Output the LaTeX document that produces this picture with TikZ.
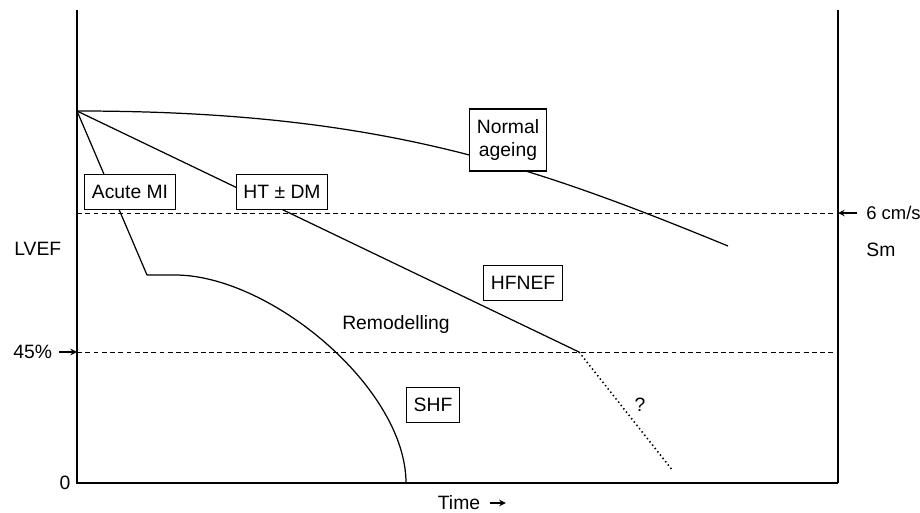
\documentclass[tikz,border=0pt]{standalone}
\usepackage{fontspec}
\setmainfont{Liberation Sans}
\usetikzlibrary{positioning}

\begin{document}
\begin{tikzpicture}[x=0.02cm,y=-0.02cm,
    txt/.style={font=\fontsize{11}{13}\selectfont},
    tag/.style={txt,draw,fill=white,line width=0.7pt,inner xsep=4pt,inner ysep=6pt,align=center},
    trend/.style={line width=0.7pt},
    level/.style={line width=0.5pt,dash pattern=on 2.8pt off 1.9pt},
    guess/.style={line width=0.9pt,dash pattern=on 0.8pt off 1.6pt},
    pointer/.style={line width=0.7pt,-stealth}]
    \useasboundingbox (0,0) rectangle (920,513);
    % frame
    \coordinate (tl) at (77,10);
    \coordinate (bl) at (77,483);
    \coordinate (br) at (838,483);
    \coordinate (tr) at (838,10);
    \draw[trend] (tl) -- (bl) -- (br);
    \draw[trend] (tr) -- (br);
    % levels
    \coordinate (s6l) at (77,213);
    \coordinate (s6r) at (838,213);
    \coordinate (ef45l) at (77,352);
    \coordinate (ef45r) at (838,352);
    \draw[level] (s6l) -- (s6r);
    \draw[level] (ef45l) -- (ef45r);
    % curves
    \coordinate (o) at (77,111);
    \coordinate (ageend) at (728,246);
    \coordinate (mi) at (147,275);
    \coordinate (remend) at (406,483);
    \coordinate (ht) at (579,352);
    \coordinate (htend) at (673,471);
    \draw[trend] (o) .. controls (377,111) and (528,164) .. (ageend);
    \draw[trend] (o) -- (ht);
    \draw[guess] (ht) -- (htend);
    \draw[trend] (o) -- (mi) -- ++(28,0) .. controls +(95,0) and +(0,-95) .. (remend);
    % boxes
    \node[tag] (acute) at (130,192) {Acute MI};
    \node[tag] (htdm) at (282,192) {HT ± DM};
    \node[tag] (normal) at (508,140) {Normal\\ageing};
    \node[tag] (hfnef) at (523,283) {HFNEF};
    \node[tag] (shf) at (433,405) {SHF};
    \node[txt] (remod) at (396,325) {Remodelling};
    \node[txt] (unk) at (640,405) {?};
    % axis labels
    \node[txt,anchor=west,inner sep=0pt] (lvef) at (14,249) {LVEF};
    \node[txt,anchor=west,inner sep=0pt] (ef45) at (13,352) {45\%};
    \draw[pointer] (ef45.east) ++(7,0) coordinate (p45) -- (ef45l);
    \node[txt] (zero) at (65,483) {0};
    \node[txt] (time) at (459,503) {Time};
    \draw[pointer] ([xshift=2pt]time.east) -- ++(16,0);
    \node[txt,font=\fontsize{10.5}{13}\selectfont,anchor=west,inner sep=0pt] (cms) at (866,213) {6 cm/s};
    \draw[pointer] ([xshift=-5]cms.west) -- (s6r);
    \node[txt,anchor=west,inner sep=0pt] (sm) at (866,250) {Sm};
\end{tikzpicture}
\end{document}
